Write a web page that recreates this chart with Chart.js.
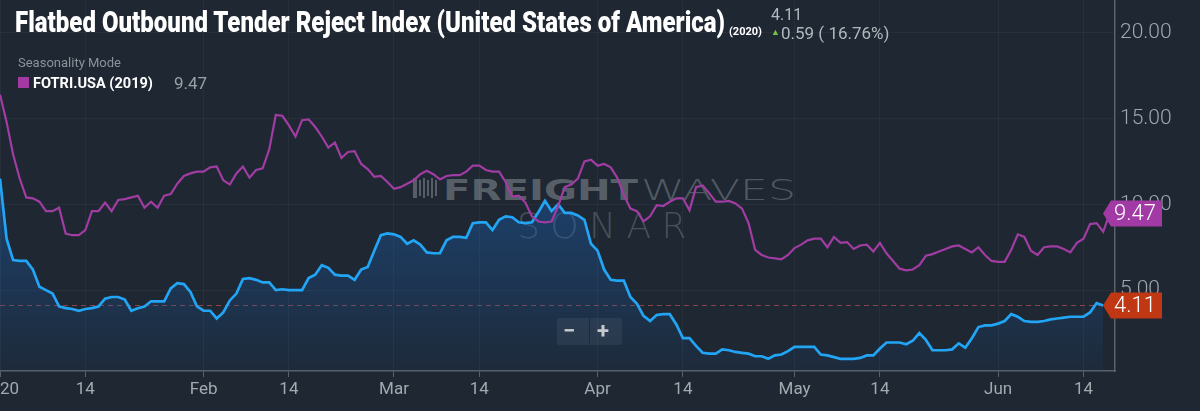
<!DOCTYPE html>
<html><head><meta charset="utf-8">
<script src="https://cdn.jsdelivr.net/npm/chart.js@4.4.1/dist/chart.umd.min.js"></script>
<style>
html,body{margin:0;padding:0;background:#1e2732;}
#wrap{position:relative;width:1200px;height:411px;overflow:hidden;background:#1e2732;font-family:Roboto,"Noto Sans",sans-serif;}
#c{position:absolute;left:0;top:0;z-index:2;}
.ov{position:absolute;white-space:nowrap;line-height:1;transform-origin:0 50%;}
#wm{position:absolute;left:0;top:0;width:1200px;height:411px;z-index:1;}
.top{z-index:3;}
</style>
</head><body>
<div id="wrap">
  <div id="wm">
    <div class="ov" id="wmLogo" style="left:413px;top:178px;width:26px;height:20px;"></div>
    <div class="ov" id="wmFreight" style="left:443px;top:177px;font-family:'DejaVu Sans';font-weight:700;font-size:28px;color:rgba(125,132,140,0.62);">FREIGHT</div>
    <div class="ov" id="wmWaves" style="left:641px;top:177px;font-family:'DejaVu Sans';font-weight:200;font-size:28px;color:rgba(125,132,140,0.55);">WAVES</div>
    <div class="ov" id="wmSonar" style="left:517px;top:208px;font-family:'DejaVu Sans';font-weight:200;font-size:36px;color:rgba(125,132,140,0.45);">SONAR</div>
  </div>
  <canvas id="c" width="1200" height="411"></canvas>
  <div class="ov top" id="title" style="left:15px;top:8px;font-size:29px;font-weight:900;color:#ffffff;">Flatbed Outbound Tender Reject Index (United States of America)</div>
  <div class="ov top" id="yr" style="left:729px;top:26px;font-size:11px;font-weight:700;color:#ffffff;">(2020)</div>
  <div class="ov top" id="lastVal" style="left:771px;top:7px;font-size:16px;color:#b3b8be;">4.11</div>
  <div class="ov top" style="left:771px;top:28px;font-size:9px;color:#7cc142;">▲</div>
  <div class="ov top" id="chg" style="left:781px;top:25px;font-size:17px;color:#b3b8be;">0.59 ( 16.76%)</div>
  <div class="ov top" style="left:18px;top:56px;font-size:13px;color:#8c939a;">Seasonality Mode</div>
  <div class="ov top" style="left:18px;top:77px;width:11px;height:11px;background:#a33aa3;"></div>
  <div class="ov top" id="legName" style="left:33px;top:76px;font-size:15px;font-weight:700;color:#ffffff;">FOTRI.USA (2019)</div>
  <div class="ov top" id="legVal" style="left:174px;top:75px;font-size:17px;color:#9aa0a6;">9.47</div>
  <div class="ov top" style="left:557px;top:318px;width:65px;height:27px;background:rgba(255,255,255,0.06);border-radius:2px;"></div>
  <div class="ov top" style="left:589px;top:318px;width:1px;height:27px;background:rgba(30,38,49,0.8);"></div>
  <div class="ov top" style="left:563px;top:320px;font-size:22px;font-weight:700;color:#c5c9cd;">−</div>
  <div class="ov top" style="left:597px;top:320px;font-size:22px;font-weight:700;color:#c5c9cd;">+</div>
</div>
<script>
// ---- data (day index from 2020-01-01) ----
const flatbed2020 = [11.5,8.0,6.75,6.7,6.7,6.2,5.2,5.0,4.8,4.05,3.95,3.9,3.8,3.9,3.95,4.05,4.5,4.6,4.6,4.45,
3.8,3.95,4.05,4.35,4.35,4.35,5.1,5.4,5.35,4.9,4.05,3.8,3.8,3.35,3.7,4.4,4.8,5.65,5.7,5.6,
5.45,5.45,5.0,5.05,5.0,5.0,5.0,5.7,5.9,6.45,6.3,5.9,5.85,5.85,5.6,6.2,6.35,7.3,8.2,8.3,
8.25,8.1,7.7,7.9,7.65,7.2,7.15,7.15,7.9,8.1,8.1,8.05,8.9,8.95,8.95,8.5,9.1,9.3,9.25,8.95,
8.9,8.95,9.55,10.2,9.6,10.0,9.5,9.5,9.35,9.1,7.7,7.3,6.2,5.6,5.55,5.55,4.6,4.2,3.5,3.2,
3.55,3.6,3.6,3.0,2.2,2.2,1.75,1.35,1.3,1.3,1.55,1.5,1.4,1.35,1.3,1.15,1.15,1.0,1.2,1.25,
1.45,1.7,1.7,1.7,1.7,1.25,1.2,1.1,1.0,1.0,1.0,1.05,1.2,1.2,1.6,1.95,1.95,1.95,1.85,2.05,
2.5,2.1,1.5,1.5,1.5,1.55,1.9,1.65,2.2,2.85,2.95,2.95,3.05,3.2,3.6,3.45,3.2,3.15,3.15,3.2,
3.3,3.35,3.4,3.45,3.45,3.45,3.7,4.25,4.11];
const flatbed2019 = [16.4,14.8,12.9,11.5,10.4,10.35,10.15,9.6,9.6,9.8,8.3,8.2,8.2,8.5,9.6,9.6,10.1,9.6,10.25,10.3,
10.4,10.5,9.8,10.15,9.8,10.5,10.6,11.2,11.65,11.8,11.9,11.9,12.15,12.2,11.4,11.15,11.8,12.2,11.55,12.0,
12.1,13.2,15.2,15.15,14.6,13.95,14.9,14.95,14.5,13.95,13.3,13.6,12.7,13.05,13.1,12.35,12.05,11.6,11.65,11.3,
10.9,11.0,11.2,11.4,11.75,11.95,11.75,11.45,11.65,11.7,11.7,11.9,12.25,12.25,12.0,11.9,11.9,11.3,10.45,10.5,
10.1,9.3,9.0,8.95,9.0,9.9,11.0,11.15,11.5,12.5,12.6,12.25,12.35,12.15,11.55,10.55,9.75,9.6,9.0,9.3,
9.95,9.9,10.15,10.35,10.35,9.65,11.0,11.1,10.65,10.15,10.15,10.2,10.05,9.75,8.9,7.35,7.05,6.9,6.85,6.8,
7.05,7.45,7.65,7.9,8.0,8.0,7.5,8.1,7.75,7.8,7.4,7.6,7.65,7.25,7.75,7.15,6.7,6.25,6.15,6.2,
6.45,7.0,7.1,7.25,7.4,7.55,7.6,7.4,7.2,7.5,7.05,6.7,6.65,6.65,7.35,8.25,8.1,7.3,7.05,7.5,
7.55,7.55,7.4,7.2,7.75,8.0,8.85,8.9,8.4,9.47];
const tickDays = [0,13,31,44,60,73,91,104,121,134,152,165];
const tickLabels = ['2020','14','Feb','14','Mar','14','Apr','14','May','14','Jun','14'];
const yTicks = [5,10,15,20];

// ---- header text fitting ----
function fitW(id, w){const el=document.getElementById(id);const r=el.getBoundingClientRect().width;el.style.transform='scaleX('+(w/r)+')';}
fitW('title',710); fitW('legName',120); fitW('wmFreight',195); fitW('wmWaves',155);
(function(){const el=document.getElementById('wmSonar');el.style.letterSpacing='0px';const r=el.getBoundingClientRect().width;el.style.letterSpacing=((180-r)/5)+'px';})();
(function(){const lg=document.getElementById('wmLogo');for(let i=0;i<6;i++){const b=document.createElement('div');b.style.cssText='position:absolute;top:'+(i%2?2:0)+'px;left:'+(i*4+2)+'px;width:2px;height:'+(i%2?16:20)+'px;background:rgba(125,132,140,0.6);';lg.appendChild(b);}
const f=document.createElement('div');f.style.cssText='position:absolute;left:0;top:0;width:24px;height:20px;border-left:2px solid rgba(125,132,140,0.6);';lg.appendChild(f);})();

const axisCol = '#59616b';
const lastBlue = flatbed2020[flatbed2020.length-1];
const lastPurple = flatbed2019[flatbed2019.length-1];

const tagPlugin = {
  id:'tags',
  beforeDatasetsDraw(chart){
    const {ctx, chartArea, scales:{y}} = chart;
    const yy = Math.round(y.getPixelForValue(lastBlue))+0.5;
    ctx.save();
    ctx.setLineDash([5,4]); ctx.strokeStyle='#8a4646'; ctx.lineWidth=1;
    ctx.beginPath(); ctx.moveTo(chartArea.left, yy); ctx.lineTo(chartArea.right, yy); ctx.stroke();
    ctx.restore();
  },
  afterDraw(chart){
    const {ctx, chartArea, scales:{y}} = chart;
    function tag(v, col){
      const cy = y.getPixelForValue(v);
      const tip = chartArea.right - 12, x0 = tip + 8, x1 = chartArea.right + 47, h = 26;
      ctx.save();
      ctx.fillStyle = col;
      ctx.beginPath();
      ctx.moveTo(tip, cy); ctx.lineTo(x0, cy-h/2); ctx.lineTo(x1, cy-h/2); ctx.lineTo(x1, cy+h/2); ctx.lineTo(x0, cy+h/2); ctx.closePath();
      ctx.fill();
      ctx.fillStyle = '#ffffff'; ctx.font = '300 22px Roboto'; ctx.textBaseline = 'middle'; ctx.textAlign='left';
      ctx.fillText(v.toFixed(2), x0 + 3, cy + 1);
      ctx.restore();
    }
    tag(lastPurple, '#a13aa4');
    tag(lastBlue, '#c03813');
  }
};

new Chart(document.getElementById('c'), {
  type:'line',
  data:{
    datasets:[
      {label:'FOTRI.USA (2019)', data:flatbed2019.map((v,i)=>({x:i,y:v})), borderColor:'#a03ca2', borderWidth:2.2, pointRadius:0, fill:false, tension:0, order:1},
      {label:'FOTRI.USA (2020)', data:flatbed2020.map((v,i)=>({x:i,y:v})), borderColor:'#22a5f5', borderWidth:2.7, pointRadius:0, tension:0, order:2,
       fill:'start',
       backgroundColor:(ctx)=>{const ca=ctx.chart.chartArea; if(!ca) return 'rgba(35,95,165,0.3)'; const g=ctx.chart.ctx.createLinearGradient(0,ca.top+150,0,ca.bottom); g.addColorStop(0,'rgba(28,95,175,0.55)'); g.addColorStop(1,'rgba(28,95,175,0.07)'); return g;}}
    ]
  },
  options:{
    responsive:false, animation:false, devicePixelRatio:1,
    layout:{padding:0},
    plugins:{legend:{display:false}, tooltip:{enabled:false}},
    scales:{
      x:{type:'linear', min:0, max:169.8, position:'bottom',
        afterBuildTicks:(s)=>{s.ticks = tickDays.map(v=>({value:v}));},
        afterFit:(s)=>{s.height = 40; s.paddingLeft = 0; s.paddingRight = 0;},
        ticks:{autoSkip:false, maxRotation:0, padding:3, color:'#a3a9af', font:{family:'Roboto', size:17},
          callback:(v)=>{const i=tickDays.indexOf(v); return i>=0?tickLabels[i]:'';}},
        grid:{color:'rgba(255,255,255,0.045)', tickColor:axisCol, tickLength:6, drawTicks:true},
        border:{display:true, color:axisCol, width:1.5}
      },
      y:{type:'linear', position:'right', min:0.29, max:21.9,
        afterBuildTicks:(s)=>{s.ticks = yTicks.map(v=>({value:v}));},
        afterFit:(s)=>{s.width = 85; s.paddingTop = 0; s.paddingBottom = 0;},
        ticks:{padding:5, color:'#a0a7ae', font:{family:'Roboto', size:21, weight:'300'}, callback:(v)=>Number(v).toFixed(2)},
        grid:{color:'rgba(255,255,255,0.045)', drawTicks:false},
        border:{display:true, color:axisCol, width:1.5}
      }
    }
  },
  plugins:[tagPlugin]
});
</script>
</body></html>
